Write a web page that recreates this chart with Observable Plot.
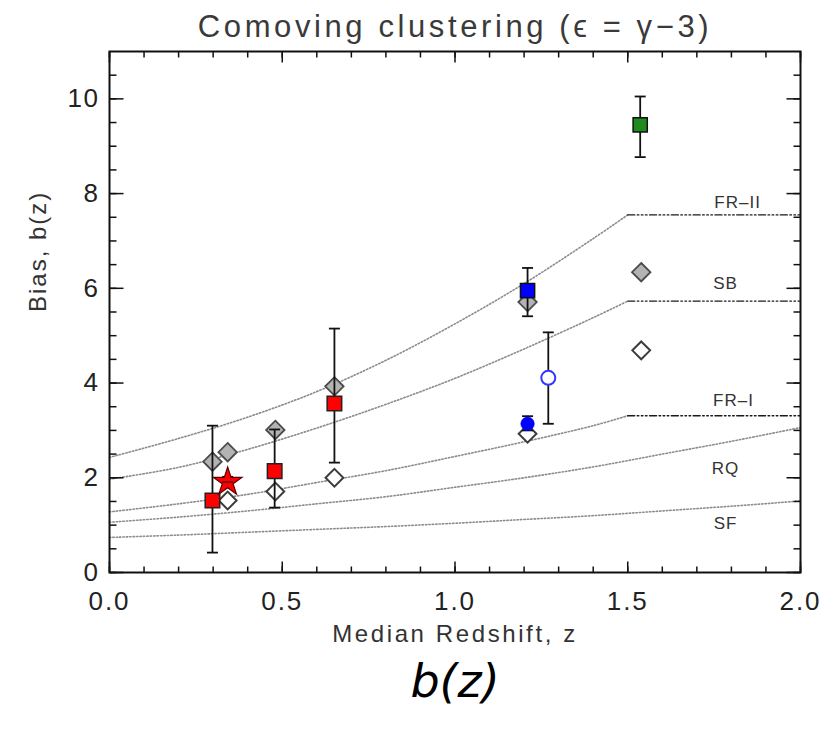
<!DOCTYPE html>
<html>
<head>
<meta charset="utf-8">
<script src="https://cdn.jsdelivr.net/npm/d3@7"></script>
<script src="https://cdn.jsdelivr.net/npm/@observablehq/plot@0.6"></script>
<style>
  html, body { margin: 0; padding: 0; background: #fff; }
</style>
</head>
<body>
<div id="chart"></div>
<script>
// Measured bias b(z) of the radio / star-forming populations
const grayZ = [0.298, 0.342, 0.480, 0.651, 1.210, 1.539];
const grayB = [2.34, 2.54, 3.01, 3.93, 5.71, 6.34];

const openZ = [0.342, 0.480, 0.651, 1.210, 1.539];
const openB = [1.52, 1.71, 2.00, 2.93, 4.69];

const redZ = [0.298, 0.478, 0.651];
const redB = [1.52, 2.14, 3.57];
const redLo = [0.42, 1.37, 2.32];
const redHi = [3.10, 3.02, 5.15];

const starZ = [0.342];
const starB = [1.91];
const starLo = [1.80];
const starHi = [2.02];

const blueSqZ = [1.210];
const blueSqB = [5.95];
const blueSqLo = [5.41];
const blueSqHi = [6.43];

const blueDotZ = [1.210];
const blueDotB = [3.14];
const blueDotLo = [3.00];
const blueDotHi = [3.30];

const blueRingZ = [1.270];
const blueRingB = [4.11];
const blueRingLo = [3.14];
const blueRingHi = [5.07];

const greenZ = [1.536];
const greenB = [9.45];
const greenLo = [8.77];
const greenHi = [10.05];

// Model bias tracks for each population
const modelZ = [0, 0.2, 0.4, 0.6, 0.8, 1.0, 1.2, 1.4, 1.5];
const frIIB = [2.43, 2.83, 3.28, 3.82, 4.48, 5.25, 6.10, 7.05, 7.55];
const sbB   = [1.97, 2.22, 2.60, 3.05, 3.55, 4.10, 4.72, 5.38, 5.73];
const frIB  = [1.28, 1.45, 1.65, 1.90, 2.15, 2.45, 2.76, 3.10, 3.31];

const longZ = [0, 0.2, 0.4, 0.6, 0.8, 1.0, 1.2, 1.4, 1.6, 1.8, 2.0];
const rqB = [1.06, 1.17, 1.30, 1.45, 1.60, 1.80, 2.00, 2.23, 2.50, 2.77, 3.06];
const sfB = [0.74, 0.79, 0.85, 0.91, 0.97, 1.04, 1.12, 1.20, 1.30, 1.40, 1.51];

// Constant bias beyond z = 1.5
const plateauZ = [1.5, 2.0];
const plateauB = [7.55, 5.73, 3.31];

// Population labels
const modelNames = ["FR\u2013II", "SB", "FR\u2013I", "RQ", "SF"];
const labelZ = [1.818, 1.783, 1.806, 1.783, 1.783];
const labelB = [7.82, 6.11, 3.62, 2.20, 1.03];

// Axis ticks
const xMajor = [0, 0.5, 1.0, 1.5, 2.0];
const xMinor = d3.range(0, 2.001, 0.1);
const yMajor = [0, 2, 4, 6, 8, 10];
const yMinor = d3.range(0, 11, 0.5);

const titleText = "Comoving clustering (\u03f5 = \u03b3\u22123)";
const xLabel = "Median Redshift, z";
const yLabel = "Bias, b(z)";
const captionText = "b(z)";

// Short line glyphs for inward ticks and error-bar caps
const seg = (dx, dy) => ({draw(ctx) { ctx.moveTo(0, 0); ctx.lineTo(dx, dy); }});
const cap = {draw(ctx) { ctx.moveTo(-5.5, 0); ctx.lineTo(5.5, 0); }};

const rows = (zs, bs, lo, hi) => zs.map((z, i) => ({z, b: bs[i], lo: lo ? lo[i] : null, hi: hi ? hi[i] : null}));

const gray = rows(grayZ, grayB);
const open = rows(openZ, openB);
const red = rows(redZ, redB, redLo, redHi);
const star = rows(starZ, starB, starLo, starHi);
const blueSq = rows(blueSqZ, blueSqB, blueSqLo, blueSqHi);
const blueDot = rows(blueDotZ, blueDotB, blueDotLo, blueDotHi);
const blueRing = rows(blueRingZ, blueRingB, blueRingLo, blueRingHi);
const green = rows(greenZ, greenB, greenLo, greenHi);
const withErrors = [...red, ...star, ...blueSq, ...blueDot, ...blueRing, ...green];

const curves = [
  ...rows(modelZ, frIIB).map(d => ({...d, m: "FR-II"})),
  ...rows(modelZ, sbB).map(d => ({...d, m: "SB"})),
  ...rows(modelZ, frIB).map(d => ({...d, m: "FR-I"})),
  ...rows(longZ, rqB).map(d => ({...d, m: "RQ"})),
  ...rows(longZ, sfB).map(d => ({...d, m: "SF"}))
];
const plateaus = plateauB.flatMap((b, i) => plateauZ.map(z => ({z, b, m: i})));
const labels = modelNames.map((name, i) => ({name, z: labelZ[i], b: labelB[i]}));

const tickStyle = {stroke: "#111", strokeWidth: 1.5, fill: "none"};

const chart = Plot.plot({
  width: 837,
  height: 730,
  marginLeft: 109,
  marginRight: 37,
  marginTop: 51,
  marginBottom: 158,
  style: {fontFamily: "'Liberation Sans', Arial, sans-serif", background: "#fff", overflow: "visible", color: "#222"},
  x: {domain: [0, 2], axis: null},
  y: {domain: [0, 11], axis: null},
  marks: [
    // model tracks
    Plot.line(curves, {x: "z", y: "b", z: "m", curve: "catmull-rom", stroke: "#8c8c8c", strokeWidth: 1.6, strokeDasharray: "1.4,2"}),
    Plot.line(plateaus, {x: "z", y: "b", z: "m", stroke: "#1a1a1a", strokeWidth: 1.4, strokeDasharray: "7,2.5,1.6,2.5,1.6,2.5,1.6,2.5"}),
    Plot.text(labels, {x: "z", y: "b", text: "name", fontSize: 17, fill: "#333", ariaDescription: "model label"}),

    // measurements
    Plot.dot(gray, {x: "z", y: "b", symbol: "diamond2", r: 8.3, fill: "#b3b3b3", stroke: "#4a4a4a", strokeWidth: 1.8}),
    Plot.dot(open, {x: "z", y: "b", symbol: "diamond2", r: 8.0, fill: "#fff", stroke: "#3c3c3c", strokeWidth: 2}),
    Plot.ruleX(withErrors, {x: "z", y1: "lo", y2: "hi", stroke: "#111", strokeWidth: 1.8}),
    Plot.dot(withErrors, {x: "z", y: "lo", symbol: cap, stroke: "#111", strokeWidth: 1.8, fill: "none"}),
    Plot.dot(withErrors, {x: "z", y: "hi", symbol: cap, stroke: "#111", strokeWidth: 1.8, fill: "none"}),
    Plot.dot(red, {x: "z", y: "b", symbol: "square", r: 8.2, fill: "#ff0000", stroke: "#222", strokeWidth: 1.5}),
    Plot.dot(star, {x: "z", y: "b", symbol: "star", r: 9, fill: "#ff0000", stroke: "#5a0000", strokeWidth: 1.2}),
    Plot.dot(star, {x: "z", y: "b", symbol: cap, stroke: "#222", strokeWidth: 1.2, fill: "none"}),
    Plot.dot(blueSq, {x: "z", y: "b", symbol: "square", r: 8.0, fill: "#0000ff", stroke: "#111", strokeWidth: 1.5}),
    Plot.dot(blueDot, {x: "z", y: "b", r: 6.8, fill: "#0000ff", stroke: "#0000ff", strokeWidth: 0.5}),
    Plot.dot(blueRing, {x: "z", y: "b", r: 7, fill: "#fff", stroke: "#3535ff", strokeWidth: 2}),
    Plot.dot(green, {x: "z", y: "b", symbol: "square", r: 8.0, fill: "#1f8a1f", stroke: "#111", strokeWidth: 1.5}),

    // frame with inward ticks on all sides
    Plot.frame({stroke: "#111", strokeWidth: 2}),
    Plot.dot(xMinor, {x: d => d, frameAnchor: "bottom", symbol: seg(0, -6), ...tickStyle}),
    Plot.dot(xMajor, {x: d => d, frameAnchor: "bottom", symbol: seg(0, -11), ...tickStyle}),
    Plot.dot(xMinor, {x: d => d, frameAnchor: "top", symbol: seg(0, 6), ...tickStyle}),
    Plot.dot(xMajor, {x: d => d, frameAnchor: "top", symbol: seg(0, 11), ...tickStyle}),
    Plot.dot(yMinor, {y: d => d, frameAnchor: "left", symbol: seg(7, 0), ...tickStyle}),
    Plot.dot(yMajor, {y: d => d, frameAnchor: "left", symbol: seg(14, 0), ...tickStyle}),
    Plot.dot(yMinor, {y: d => d, frameAnchor: "right", symbol: seg(-7, 0), ...tickStyle}),
    Plot.dot(yMajor, {y: d => d, frameAnchor: "right", symbol: seg(-14, 0), ...tickStyle}),

    // tick labels
    Plot.axisX(xMajor, {anchor: "bottom", tickSize: 0, tickPadding: 19, tickFormat: d3.format(".1f"), fontSize: 26, label: null, ariaDescription: "x ticks"}),
    Plot.axisY(yMajor, {anchor: "left", tickSize: 0, tickPadding: 10, tickFormat: d3.format("d"), fontSize: 26, label: null, ariaDescription: "y ticks"}),

    // titles
    Plot.text([titleText], {frameAnchor: "top", lineAnchor: "middle", dy: -24, fontSize: 31, fill: "#3a3a3a", ariaDescription: "title"}),
    Plot.text([xLabel], {frameAnchor: "bottom", lineAnchor: "middle", dy: 62, fontSize: 24, fill: "#333", ariaDescription: "x label"}),
    Plot.text([yLabel], {frameAnchor: "left", lineAnchor: "middle", dx: -71, rotate: -90, fontSize: 24, fill: "#333", ariaDescription: "y label"}),
    Plot.text([captionText], {frameAnchor: "bottom", lineAnchor: "middle", dy: 110, fontSize: 46, fontStyle: "italic", fill: "#000", fontFamily: "'DejaVu Sans', sans-serif", ariaDescription: "caption"})
  ]
});

// Letter spacing per text group
const spacing = {"title": 3.6, "x label": 2.6, "y label": 2.0, "model label": 1, "x ticks": 2, "y ticks": 1.5};
for (const [desc, px] of Object.entries(spacing)) {
  d3.select(chart).selectAll(`[aria-description="${desc}"] text`).style("letter-spacing", `${px}px`);
}

document.getElementById("chart").appendChild(chart);
</script>
</body>
</html>
